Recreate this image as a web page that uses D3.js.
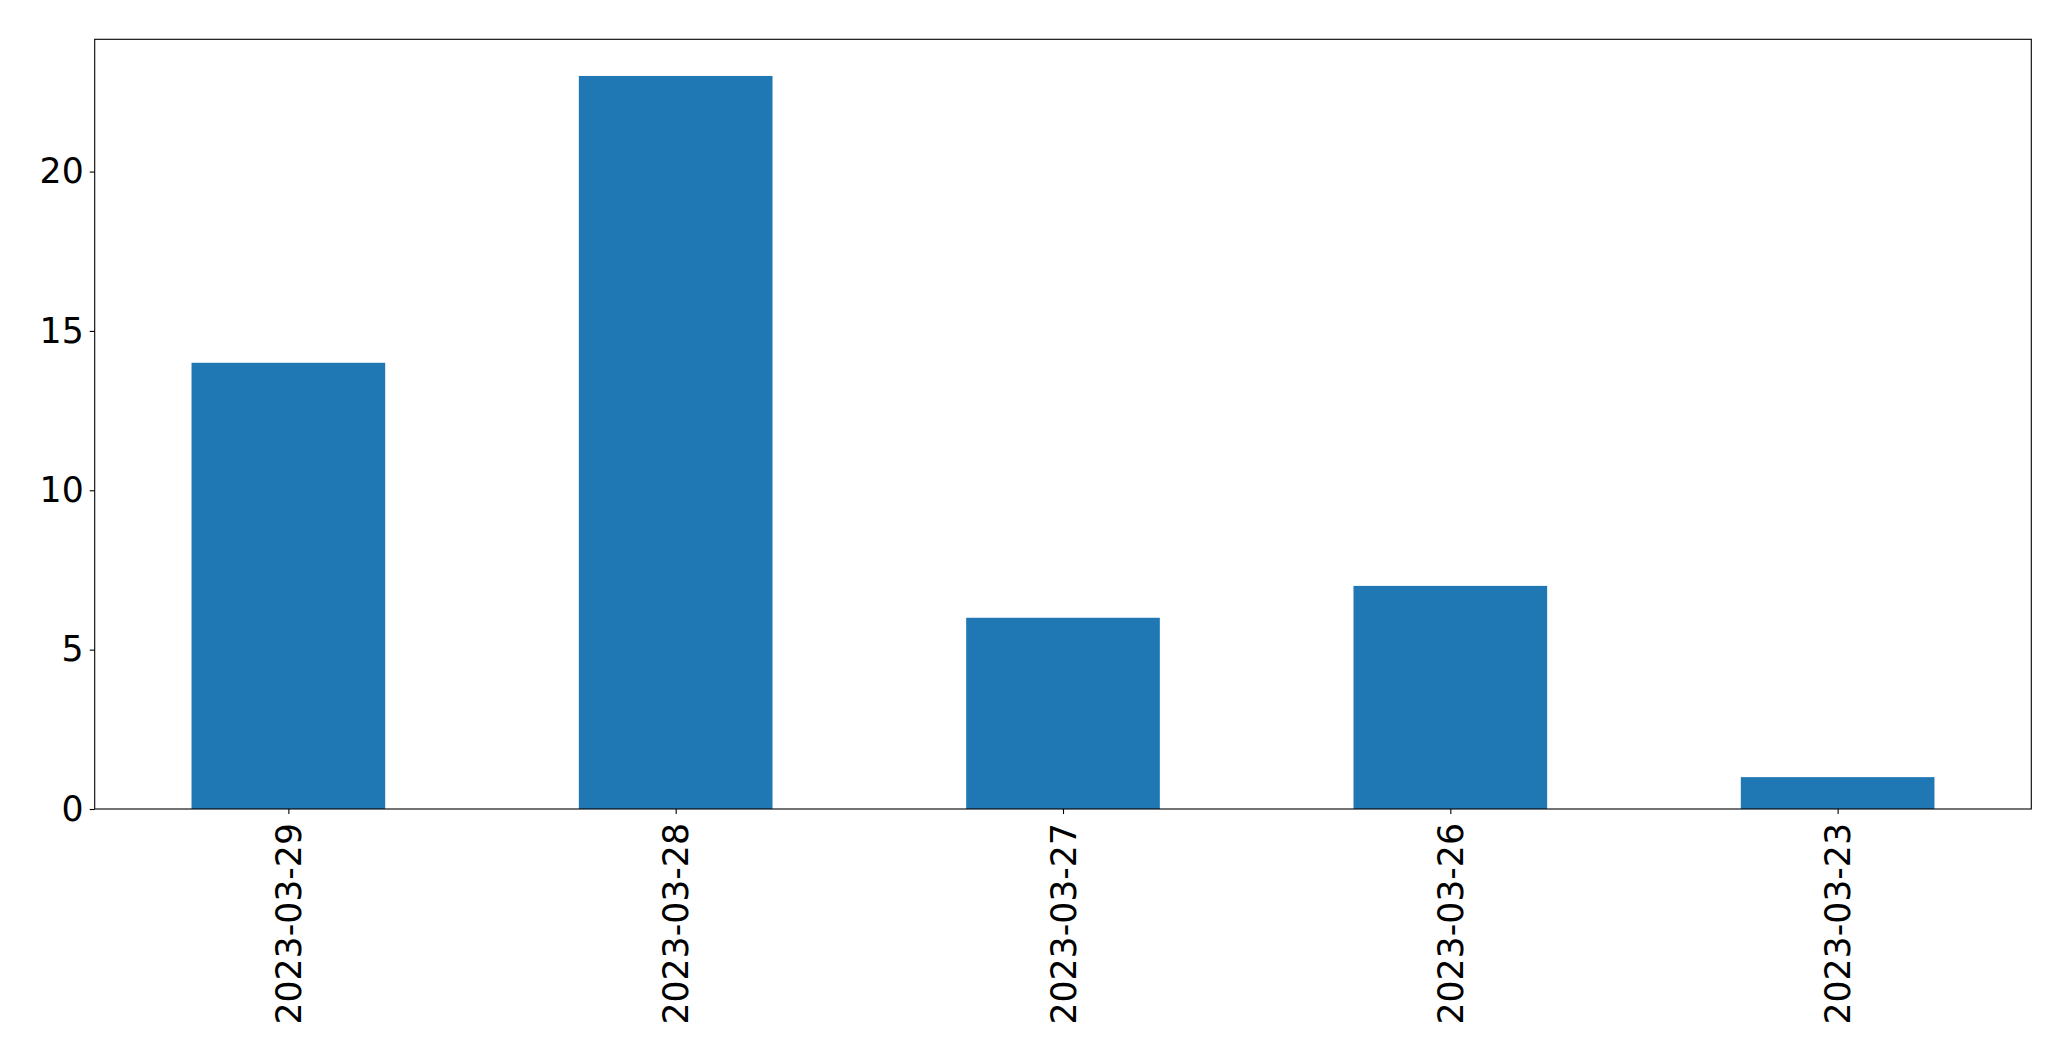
<!DOCTYPE html>
<html>
<head>
<meta charset="utf-8">
<script src="https://cdn.jsdelivr.net/npm/d3@7"></script>
<style>
  html, body { margin: 0; padding: 0; background: #fff; }
  text { font-family: "DejaVu Sans", sans-serif; }
</style>
</head>
<body>
<svg id="chart" width="2071" height="1061"></svg>
<script>
const categories = ["2023-03-29", "2023-03-28", "2023-03-27", "2023-03-26", "2023-03-23"];
const values = [14, 23, 6, 7, 1];
const yTicks = [0, 5, 10, 15, 20];

const margin = { left: 94.7, right: 2071 - 2031.3, top: 39.3, bottom: 1061 - 809 };
const W = 2071, H = 1061;
const svg = d3.select("#chart");

const x = d3.scaleLinear().domain([-0.5, categories.length - 0.5]).range([margin.left, W - margin.right]);
const y = d3.scaleLinear().domain([0, d3.max(values) * 1.05]).range([H - margin.bottom, margin.top]);
const barW = 0.5;

svg.append("g").selectAll("rect").data(values).join("rect")
  .attr("x", (d, i) => x(i - barW / 2))
  .attr("width", (d, i) => x(i + barW / 2) - x(i - barW / 2))
  .attr("y", d => y(d))
  .attr("height", d => y(0) - y(d))
  .attr("fill", "#1f77b4");

// frame
svg.append("rect")
  .attr("x", x.range()[0]).attr("y", y.range()[1])
  .attr("width", x.range()[1] - x.range()[0])
  .attr("height", y.range()[0] - y.range()[1])
  .attr("fill", "none").attr("stroke", "#000").attr("stroke-width", 1.1);

const fs = 34.7;

const yAxis = d3.axisLeft(y).tickValues(yTicks).tickSize(5).tickPadding(6).tickFormat(d3.format("d"));
const gy = svg.append("g").attr("transform", `translate(${x.range()[0]},0)`).call(yAxis);
gy.select(".domain").remove();
gy.selectAll("line").attr("stroke", "#000").attr("stroke-width", 1.1);
gy.selectAll("text").attr("font-size", fs).attr("fill", "#000").attr("font-family", "DejaVu Sans");

const xAxis = d3.axisBottom(x).tickValues(d3.range(categories.length)).tickSize(5).tickFormat(i => categories[i]);
const gx = svg.append("g").attr("transform", `translate(0,${y.range()[0]})`).call(xAxis);
gx.select(".domain").remove();
gx.selectAll("line").attr("stroke", "#000").attr("stroke-width", 1.1);
gx.selectAll("text")
  .attr("font-size", fs).attr("fill", "#000").attr("font-family", "DejaVu Sans")
  .attr("text-anchor", "end")
  .attr("transform", "rotate(-90)")
  .attr("x", -14).attr("y", 0).attr("dy", "0.35em");
</script>
</body>
</html>
